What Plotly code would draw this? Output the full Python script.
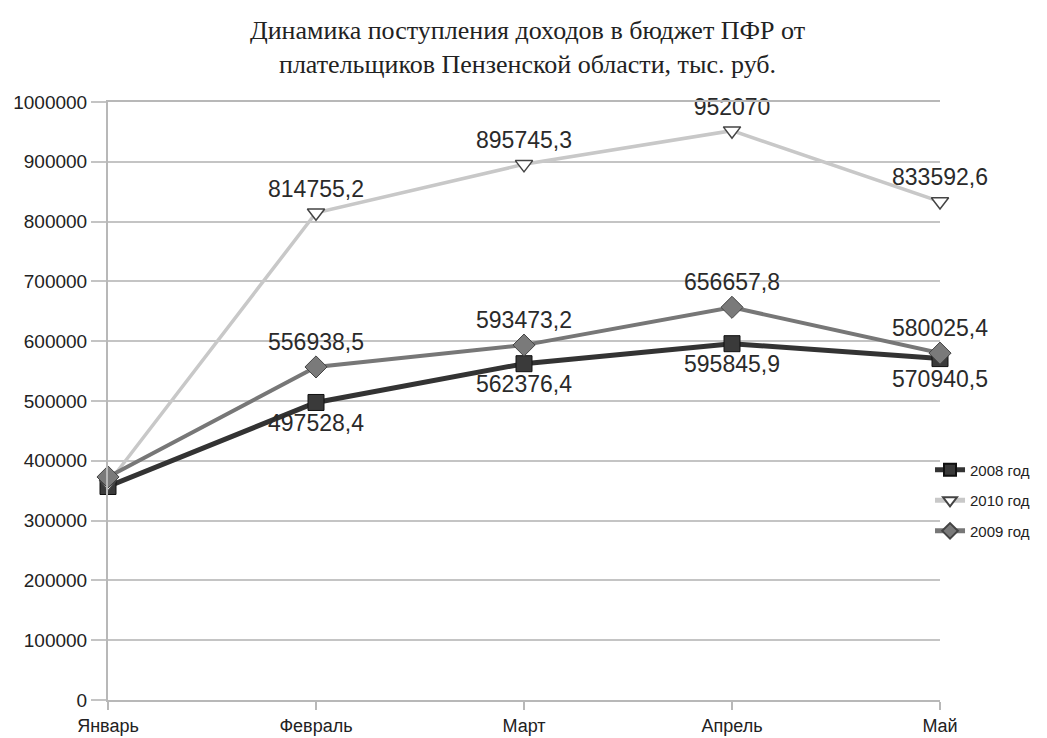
import plotly.graph_objects as go

months = ["Январь", "Февраль", "Март", "Апрель", "Май"]
y2008 = [357000, 497528.4, 562376.4, 595845.9, 570940.5]
y2009 = [373000, 556938.5, 593473.2, 656657.8, 580025.4]
y2010 = [362000, 814755.2, 895745.3, 952070, 833592.6]
y_ticks = [0, 100000, 200000, 300000, 400000, 500000, 600000, 700000, 800000, 900000, 1000000]


def fmt(v):
    if float(v).is_integer():
        return str(int(v))
    return f"{v:.1f}".replace(".", ",")


def labels(vals):
    return [""] + [fmt(v) for v in vals[1:]]


x = list(range(len(months)))
lab_font = dict(family="Liberation Sans, Arial, sans-serif", size=23, color="#2a2a2a")

fig = go.Figure()
fig.add_trace(go.Scatter(
    x=x, y=y2008, name="2008 год", legendgroup="a", mode="lines+markers+text",
    line=dict(color="#333333", width=5),
    marker=dict(symbol="square", size=16, color="#3a3a3a", line=dict(color="#111", width=1)),
    text=labels(y2008), textposition="bottom center", textfont=lab_font, cliponaxis=False,
))
fig.add_trace(go.Scatter(
    x=x, y=y2010, name="2010 год", legendgroup="b", mode="lines+markers+text",
    line=dict(color="#c8c8c8", width=3.5),
    marker=dict(symbol="triangle-down", size=15, color="#ffffff", line=dict(color="#444", width=1.5)),
    text=labels(y2010), textposition="top center", textfont=lab_font, cliponaxis=False,
))
fig.add_trace(go.Scatter(
    x=x, y=y2009, name="2009 год", legendgroup="c", mode="lines+markers+text",
    line=dict(color="#777777", width=4),
    marker=dict(symbol="diamond", size=17, color="#7a7a7a", line=dict(color="#444", width=1)),
    text=labels(y2009), textposition="top center", textfont=lab_font, cliponaxis=False,
))

fig.update_layout(
    width=1039, height=730,
    paper_bgcolor="white", plot_bgcolor="white",
    margin=dict(l=100, r=107, t=94, b=38, autoexpand=False),
    title=dict(
        text="Динамика поступления доходов в бюджет ПФР от<br>плательщиков Пензенской области, тыс. руб.",
        x=0.5, xanchor="center", yref="container", y=0.957, yanchor="middle",
        font=dict(family="Liberation Serif, DejaVu Serif, serif", size=26, color="#222"),
    ),
    showlegend=True,
    legend=dict(
        x=0.988, xanchor="left", y=0.412, yanchor="top",
        font=dict(family="Liberation Sans, Arial, sans-serif", size=15, color="#222"),
        bgcolor="rgba(0,0,0,0)", tracegroupgap=8, itemwidth=30, itemsizing="constant",
    ),
    font=dict(family="Liberation Sans, Arial, sans-serif", color="#222"),
)

fig.update_xaxes(
    tickmode="array", tickvals=x, ticktext=months, range=[0, 4], automargin=False,
    showgrid=False, showline=True, linecolor="#b8b8b8", linewidth=2,
    mirror=True, ticks="outside", ticklen=8, tickcolor="#b8b8b8", tickwidth=2,
    tickfont=dict(size=18, color="#222"), zeroline=False,
)
fig.update_yaxes(
    range=[0, 1000000], tickmode="array", tickvals=y_ticks, automargin=False,
    ticktext=[str(v) for v in y_ticks],
    showgrid=True, gridcolor="#c4c4c4", gridwidth=2,
    showline=True, linecolor="#b8b8b8", linewidth=2,
    ticks="outside", ticklen=15, tickcolor="#c4c4c4", tickwidth=2,
    tickfont=dict(size=19, color="#222"), zeroline=False,
)

fig.write_html("out.html")
